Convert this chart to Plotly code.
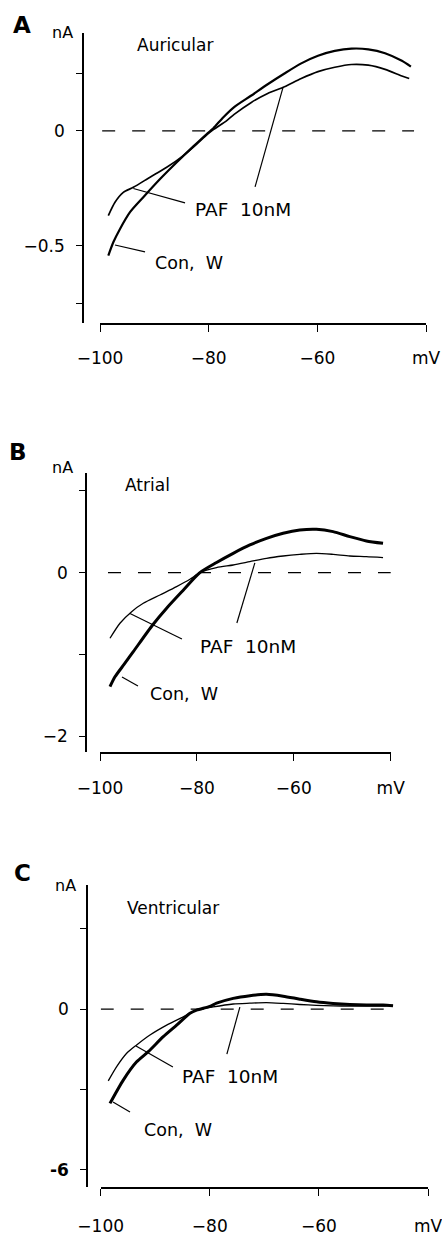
import plotly.graph_objects as go

W, H = 442, 1238
OFF = 0
FONT = "DejaVu Sans, Liberation Sans, Arial, sans-serif"

# ---------------- data (mV, nA) ----------------
# Panel A  - Auricular
A_V_con = [-98.47, -97.55, -96.32, -94.48, -92.03, -88.95, -85.87, -82.82, -80.35, -79.13, -77.29, -75.31,
           -72.22, -69.14, -66.05, -62.96, -59.88, -56.79, -53.70, -50.62, -47.53, -44.44, -42.78]
A_I_con = [-0.542, -0.484, -0.426, -0.353, -0.288, -0.209, -0.136, -0.067, -0.013, 0.012, 0.060, 0.104,
           0.153, 0.203, 0.250, 0.294, 0.327, 0.348, 0.358, 0.355, 0.338, 0.305, 0.280]
A_V_paf = [-98.47, -97.24, -95.71, -93.86, -90.79, -87.72, -84.66, -82.19, -80.35, -79.13, -76.67, -75.31,
           -72.22, -69.14, -66.05, -62.96, -59.88, -56.79, -53.70, -50.62, -47.53, -44.44, -43.09]
A_I_paf = [-0.368, -0.310, -0.267, -0.245, -0.201, -0.158, -0.107, -0.057, -0.017, 0.006, 0.045, 0.072,
           0.123, 0.163, 0.192, 0.228, 0.258, 0.277, 0.289, 0.286, 0.268, 0.239, 0.228]

# Panel B  - Atrial
B_V_con = [-97.94, -96.91, -95.00, -93.13, -89.14, -86.25, -82.82, -79.38, -75.94, -72.51,
           -69.07, -65.63, -62.20, -58.76, -55.33, -51.89, -48.45, -45.02, -41.58]
B_I_con = [-1.396, -1.275, -1.120, -0.967, -0.640, -0.435, -0.215, 0.0, 0.125, 0.237,
           0.339, 0.420, 0.482, 0.522, 0.531, 0.502, 0.441, 0.388, 0.359]
B_V_paf = [-97.94, -95.88, -93.47, -91.07, -87.63, -84.19, -81.44, -79.38, -75.94, -72.51,
           -69.07, -65.63, -62.20, -58.76, -55.33, -51.89, -48.45, -45.02, -41.58]
B_I_paf = [-0.803, -0.619, -0.477, -0.375, -0.273, -0.171, -0.081, 0.0, 0.062, 0.094,
           0.135, 0.176, 0.204, 0.224, 0.237, 0.224, 0.204, 0.196, 0.184]

# Panel C  - Ventricular
C_V_con = [-98.30, -95.86, -93.41, -91.28, -88.53, -86.08, -83.64, -82.42, -79.98, -78.76, -75.71,
           -72.66, -69.61, -66.55, -63.50, -60.45, -57.40, -54.34, -51.29, -48.24, -46.41]
C_I_con = [-3.52, -2.65, -1.97, -1.59, -1.03, -0.60, -0.16, -0.04, 0.10, 0.22, 0.40,
           0.50, 0.55, 0.48, 0.37, 0.27, 0.21, 0.17, 0.15, 0.15, 0.12]
C_V_paf = [-98.61, -97.07, -95.24, -93.41, -90.97, -87.91, -84.87, -82.42, -79.38, -75.71,
           -72.66, -69.61, -66.55, -63.50, -60.45, -57.40, -54.34, -51.29, -48.24, -46.41]
C_I_paf = [-2.68, -2.15, -1.65, -1.34, -0.97, -0.60, -0.29, -0.04, 0.08, 0.19,
           0.22, 0.24, 0.21, 0.17, 0.14, 0.12, 0.11, 0.11, 0.11, 0.14]

# ---------------- axis labels ----------------
x_tickvals = [-100, -80, -60, -40]
x_ticktext = ["\u2212100", "\u221280", "\u221260", "mV"]
A_y_tickvals = [0.25, 0, -0.5, -0.75]
A_y_ticktext = ["", "0", "\u22120.5", ""]
B_y_tickvals = [1, 0, -1, -2]
B_y_ticktext = ["", "0", "", "\u22122"]
C_y_tickvals = [3, 0, -3, -6]
C_y_ticktext = ["", "0", "", "<b>-6</b>"]

panel_letters = ["A", "B", "C"]
panel_titles = ["Auricular", "Atrial", "Ventricular"]
label_paf = "PAF  10nM"
label_con = "Con,  W"


def px(x):
    return (x - OFF) / W


def py(y):
    return 1 - (y - OFF) / H


# layout geometry per panel (page pixels)
panels = [
    dict(xd=(100, 426), yd=(33, 323), yaxx=83, xaxy=324, yr=(-0.835, 0.426), xstand=12,
         con=(A_V_con, A_I_con, 2.2), paf=(A_V_paf, A_I_paf, 1.7),
         yt=(A_y_tickvals, A_y_ticktext), zero=(-99.6, -42.2),
         letter=(11, 25), nA=(50, 33),
         title=(-93.55, 0.374), paf_lbl=(-82.9, -0.343), con_lbl=(-90.2, -0.574),
         ptr=[(-93.86, -0.250, -84.35, -0.313), (-66.30, 0.191, -71.46, -0.243),
              (-97.24, -0.496, -91.71, -0.526)]),
    dict(xd=(100, 390.7), yd=(473, 752), yaxx=86, xaxy=753, yr=(-2.195, 1.220), xstand=13,
         con=(B_V_con, B_I_con, 3.0), paf=(B_V_paf, B_I_paf, 1.3),
         yt=(B_y_tickvals, B_y_ticktext), zero=(-98.35, -39.8),
         letter=(7, 452), nA=(50, 467),
         title=(-95.26, 1.073), paf_lbl=(-79.8, -0.909), con_lbl=(-90.1, -1.485),
         ptr=[(-93.81, -0.500, -83.09, -0.811), (-68.04, 0.119, -71.75, -0.616),
              (-95.46, -1.278, -92.16, -1.388)]),
    dict(xd=(100.7, 428), yd=(885, 1187), yaxx=87, xaxy=1188, yr=(-6.64, 4.63), xstand=16,
         con=(C_V_con, C_I_con, 3.0), paf=(C_V_paf, C_I_paf, 1.3),
         yt=(C_y_tickvals, C_y_ticktext), zero=(-100, -47.56),
         letter=(12, 873), nA=(53, 885),
         title=(-95.53, 3.769), paf_lbl=(-85.5, -2.50), con_lbl=(-92.4, -4.515),
         ptr=[(-93.53, -1.381, -86.76, -2.164), (-74.49, 0.075, -76.87, -1.679),
              (-97.75, -3.470, -94.63, -3.843)]),
]

fig = go.Figure()
shapes = []
annotations = []
layout_axes = {}

for i, p in enumerate(panels):
    n = "" if i == 0 else str(i + 1)
    xr, yr = "x" + n, "y" + n
    for key, (vv, ii, lw) in (("con", p["con"]), ("paf", p["paf"])):
        fig.add_trace(go.Scatter(x=vv, y=ii, mode="lines", xaxis=xr, yaxis=yr,
                                 line=dict(color="black", width=lw, shape="spline", smoothing=0.7),
                                 showlegend=False, hoverinfo="skip"))
    layout_axes["xaxis" + n] = dict(
        domain=[px(p["xd"][0]), px(p["xd"][1])], range=[-100, -40], anchor="free",
        position=py(p["xaxy"]), showline=True, linecolor="black", linewidth=1.5,
        ticks="outside", ticklen=7, tickwidth=1.4, tickcolor="black",
        tickvals=x_tickvals, ticktext=x_ticktext, ticklabelstandoff=p["xstand"],
        ticklabeloverflow="allow",
        tickfont=dict(family=FONT, size=17, color="black"), automargin=False,
        showgrid=False, zeroline=False, fixedrange=True)
    layout_axes["yaxis" + n] = dict(
        domain=[py(p["yd"][1]), py(p["yd"][0])], range=list(p["yr"]), anchor="free",
        position=px(p["yaxx"]), showline=True, linecolor="black", linewidth=1.5,
        ticks="outside", ticklen=6, tickwidth=1.4, tickcolor="black",
        tickvals=p["yt"][0], ticktext=p["yt"][1], ticklabelstandoff=8,
        ticklabeloverflow="allow",
        tickfont=dict(family=FONT, size=17, color="black"), automargin=False,
        showgrid=False, zeroline=False, fixedrange=True)
    # dashed zero line
    shapes.append(dict(type="line", xref=xr, yref=yr, x0=p["zero"][0], x1=p["zero"][1], y0=0, y1=0,
                       line=dict(color="black", width=1.2, dash="13px,17px")))
    # pointer lines
    for (x0, y0, x1, y1) in p["ptr"]:
        shapes.append(dict(type="line", xref=xr, yref=yr, x0=x0, y0=y0, x1=x1, y1=y1,
                           line=dict(color="black", width=1.2)))
    # texts
    annotations.append(dict(text="<b>" + panel_letters[i] + "</b>", xref="paper", yref="paper",
                            x=px(p["letter"][0]), y=py(p["letter"][1]), xanchor="left", yanchor="middle",
                            showarrow=False, font=dict(family=FONT, size=23, color="black")))
    annotations.append(dict(text="nA", xref="paper", yref="paper",
                            x=px(p["nA"][0]), y=py(p["nA"][1]), xanchor="left", yanchor="middle",
                            showarrow=False, font=dict(family=FONT, size=16, color="black")))
    annotations.append(dict(text=panel_titles[i], xref=xr, yref=yr,
                            x=p["title"][0], y=p["title"][1], xanchor="left", yanchor="middle",
                            showarrow=False, font=dict(family=FONT, size=17, color="black")))
    annotations.append(dict(text=label_paf, xref=xr, yref=yr,
                            x=p["paf_lbl"][0], y=p["paf_lbl"][1], xanchor="left", yanchor="middle",
                            showarrow=False, font=dict(family=FONT, size=18.5, color="black")))
    annotations.append(dict(text=label_con, xref=xr, yref=yr,
                            x=p["con_lbl"][0], y=p["con_lbl"][1], xanchor="left", yanchor="middle",
                            showarrow=False, font=dict(family=FONT, size=17.5, color="black")))

fig.update_layout(width=W, height=H, margin=dict(l=0, r=0, t=0, b=0, autoexpand=False),
                  paper_bgcolor="white", plot_bgcolor="white",
                  shapes=shapes, annotations=annotations, **layout_axes)

fig.write_html("out.html", config={"displayModeBar": False},
               post_script="document.body.style.margin='0px';document.body.style.overflow='hidden';")
